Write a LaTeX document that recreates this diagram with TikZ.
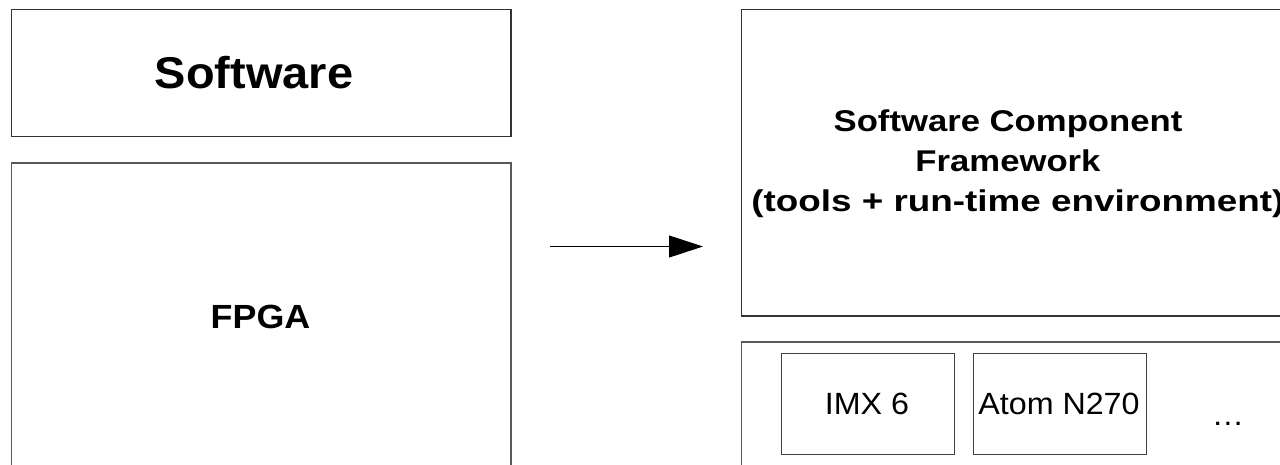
\documentclass[tikz,border=0pt]{standalone}
\usepackage{fontspec}
\setmainfont{Liberation Sans}
\usetikzlibrary{arrows.meta}
\begin{document}
\begin{tikzpicture}[x=1pt,y=-1pt,
  blk/.style={draw=black!80,line width=1.1pt},
  chip/.style={draw=black!75,line width=1pt},
  bigbold/.style={font=\fontsize{44.5}{52}\selectfont\bfseries,xscale=1.055,transform shape},
  midbold/.style={font=\fontsize{33.5}{40}\selectfont\bfseries,xscale=1.07,transform shape},
  fwtext/.style={font=\fontsize{30}{40}\selectfont\bfseries,align=center,xscale=1.156,transform shape},
  chiptext/.style={font=\fontsize{30.7}{36}\selectfont,xscale=1.05,transform shape}]
\useasboundingbox (0,0) rectangle (1280,465);
\clip (0,0) rectangle (1280,465);
% left column: software above FPGA
\draw[blk] (11.5,9.5) rectangle (511,136.5);
\node[bigbold] (sw) at (254,73) {Software};
\draw[blk,draw=black!65] (11.5,163) rectangle (511,480);
\node[midbold] (fpga) at (260.5,317) {FPGA};
% transition arrow
\coordinate (a0) at (550,246.5);
\coordinate (a1) at (703,246.5);
\draw[line width=1pt,-{Triangle[length=34pt,width=22pt]}] (a0) -- (a1);
% right column: framework above the hardware platforms
\draw[blk] (741.5,9.5) rectangle (1300,316);
\node[fwtext] (fw) at (1008,164) {Software Component\\Framework\\\hspace*{17pt}\scalebox{1.062}[1]{(tools + run-time environment)}};
\draw[blk,draw=black!65] (741.5,342) rectangle (1300,480);
\draw[chip] (781.5,353) rectangle (954.5,454);
\node[chiptext] (imx) at (867,404) {IMX 6};
\draw[chip] (973,353) rectangle (1146,454);
\node[chiptext] (atom) at (1059,404) {Atom N270};
\node[chiptext] (more) at (1228,424) {…};
\end{tikzpicture}
\end{document}
